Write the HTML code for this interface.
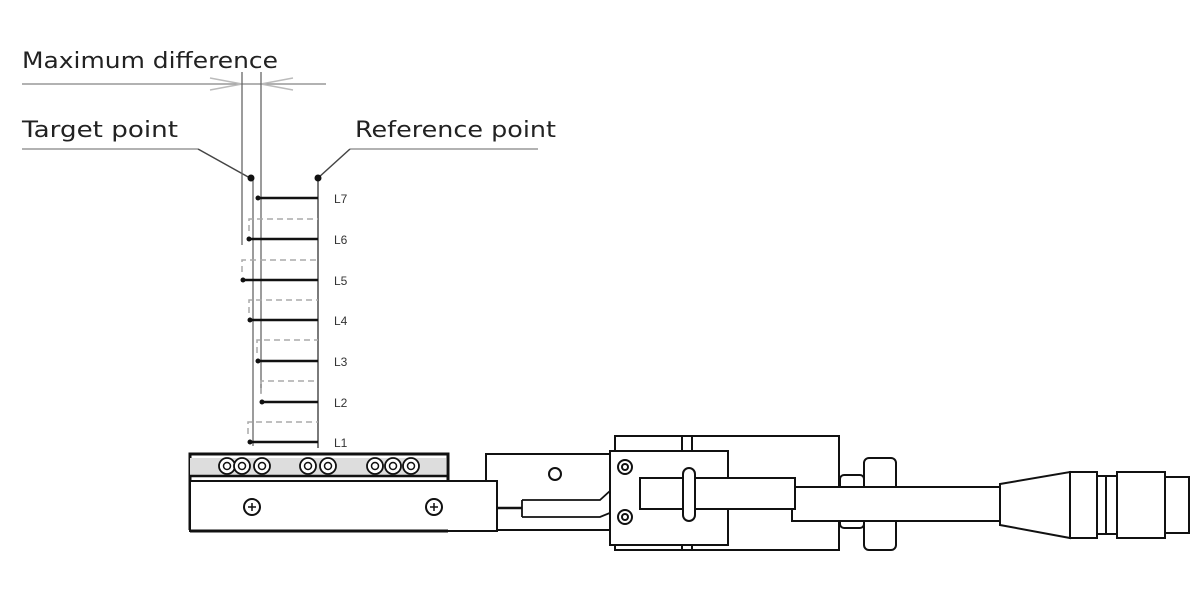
<!DOCTYPE html>
<html><head><style>html,body{margin:0;padding:0;background:#fff;width:1200px;height:612px;overflow:hidden}</style></head>
<body>
<svg width="1200" height="612" viewBox="0 0 1200 612" xmlns="http://www.w3.org/2000/svg" font-family="DejaVu Sans, Liberation Sans, sans-serif">
<rect width="1200" height="612" fill="#fff"/>
<!-- labels -->
<text x="22" y="68" font-size="22" fill="#222" textLength="256" lengthAdjust="spacingAndGlyphs">Maximum difference</text>
<text x="22" y="137" font-size="22" fill="#222" textLength="156" lengthAdjust="spacingAndGlyphs">Target point</text>
<text x="355" y="137" font-size="22" fill="#222" textLength="201" lengthAdjust="spacingAndGlyphs">Reference point</text>
<g stroke="#999" stroke-width="1.5" fill="none">
<line x1="22" y1="84" x2="326" y2="84"/>
<line x1="22" y1="149" x2="198" y2="149"/>
<line x1="198" y1="149" x2="250" y2="178" stroke="#444"/>
<line x1="350" y1="149" x2="538" y2="149"/>
<line x1="350" y1="149" x2="318" y2="178" stroke="#444"/>
<path d="M210 78 L242 84 L210 90 M293 78 L261 84 L293 90" stroke="#bbb"/>
</g>
<g stroke="#666" stroke-width="1.3">
<line x1="242" y1="72" x2="242" y2="245"/>
<line x1="261" y1="72" x2="261" y2="393"/>
<line x1="253" y1="178" x2="253" y2="446"/>
<line x1="318" y1="178" x2="318" y2="448" stroke="#333"/>
</g>
<circle cx="251" cy="178" r="3.5" fill="#111"/>
<circle cx="318" cy="178" r="3.5" fill="#111"/>
<!-- level lines -->
<g stroke="#111" stroke-width="2.5">
<line x1="258" y1="198" x2="318" y2="198"/>
<line x1="249" y1="239" x2="318" y2="239"/>
<line x1="243" y1="280" x2="318" y2="280"/>
<line x1="250" y1="320" x2="318" y2="320"/>
<line x1="258" y1="361" x2="318" y2="361"/>
<line x1="262" y1="402" x2="318" y2="402"/>
<line x1="250" y1="442" x2="318" y2="442"/>
</g>
<g fill="#111">
<circle cx="258" cy="198" r="2.5"/><circle cx="249" cy="239" r="2.5"/><circle cx="243" cy="280" r="2.5"/><circle cx="250" cy="320" r="2.5"/><circle cx="258" cy="361" r="2.5"/><circle cx="262" cy="402" r="2.5"/><circle cx="250" cy="442" r="2.5"/>
</g>
<g stroke="#aaa" stroke-width="1.5" stroke-dasharray="6,4" fill="none">
<path d="M249 231 V219 H318"/>
<path d="M242 272 V260 H318"/>
<path d="M249 313 V300 H318"/>
<path d="M257 353 V340 H318"/>
<path d="M261 394 V381 H318"/>
<path d="M248 434 V422 H318"/>
</g>
<g font-size="12" fill="#333" font-family="Liberation Sans Narrow, Liberation Sans, sans-serif">
<text x="334" y="203">L7</text><text x="334" y="244">L6</text><text x="334" y="285">L5</text><text x="334" y="325">L4</text><text x="334" y="366">L3</text><text x="334" y="407">L2</text><text x="334" y="447">L1</text>
</g>
<!-- base block -->
<g fill="none" stroke="#111" stroke-width="2">
<path d="M190 530 V454 H448 V480" stroke-width="3"/>
<rect x="190" y="458" width="256" height="18" fill="#ddd" stroke="none"/>
<line x1="190" y1="476" x2="448" y2="476" stroke-width="2.5"/>
<rect x="190" y="481" width="307" height="50" fill="#fff" stroke-width="2"/>
<line x1="190" y1="531" x2="448" y2="531" stroke-width="3"/>
</g>
<g fill="#fff" stroke="#111" stroke-width="1.8">
<circle cx="227" cy="466" r="8"/><circle cx="242" cy="466" r="8"/><circle cx="262" cy="466" r="8"/>
<circle cx="308" cy="466" r="8"/><circle cx="328" cy="466" r="8"/>
<circle cx="375" cy="466" r="8"/><circle cx="393" cy="466" r="8"/><circle cx="411" cy="466" r="8"/>
</g>
<g fill="none" stroke="#111" stroke-width="1.5">
<circle cx="227" cy="466" r="3.5"/><circle cx="242" cy="466" r="3.5"/><circle cx="262" cy="466" r="3.5"/>
<circle cx="308" cy="466" r="3.5"/><circle cx="328" cy="466" r="3.5"/>
<circle cx="375" cy="466" r="3.5"/><circle cx="393" cy="466" r="3.5"/><circle cx="411" cy="466" r="3.5"/>
<circle cx="252" cy="507" r="8" stroke-width="2"/><circle cx="434" cy="507" r="8" stroke-width="2"/>
<path d="M248 507h8M252 503v8M430 507h8M434 503v8"/>
</g>
<!-- middle block -->
<g fill="none" stroke="#111" stroke-width="2">
<path d="M486 481 V454 H610"/>
<path d="M497 530 H610"/>
<circle cx="555" cy="474" r="6"/>
<path d="M497 508 H522" stroke-width="2.5"/>
<path d="M522 500 H600 L622 480 H642 M522 517 H600 L622 508 H642 M522 500 V517" stroke-width="1.8"/>
</g>
<!-- right housing -->
<g fill="none" stroke="#111" stroke-width="2">
<rect x="615" y="436" width="224" height="114"/>
<rect x="610" y="451" width="118" height="94" fill="#fff"/>
<circle cx="625" cy="467" r="7"/><circle cx="625" cy="467" r="3"/>
<circle cx="625" cy="517" r="7"/><circle cx="625" cy="517" r="3"/>
<line x1="682" y1="436" x2="682" y2="451"/><line x1="692" y1="436" x2="692" y2="451"/>
<line x1="682" y1="545" x2="682" y2="550"/><line x1="692" y1="545" x2="692" y2="550"/>
<rect x="840" y="475" width="24" height="53" rx="4"/>
<rect x="864" y="458" width="32" height="92" rx="5" fill="#fff"/>
<rect x="792" y="487" width="208" height="34" fill="#fff"/>
<rect x="640" y="478" width="155" height="31" fill="#fff"/>
<rect x="683" y="468" width="12" height="53" rx="6" fill="#fff"/>
<path d="M1000 484 L1070 472 V538 L1000 525 Z" fill="#fff"/>
<rect x="1070" y="472" width="27" height="66"/>
<rect x="1097" y="476" width="20" height="58"/>
<line x1="1106" y1="476" x2="1106" y2="534"/>
<rect x="1117" y="472" width="48" height="66"/>
<rect x="1165" y="477" width="24" height="56"/>
</g>
</svg>
</body></html>
